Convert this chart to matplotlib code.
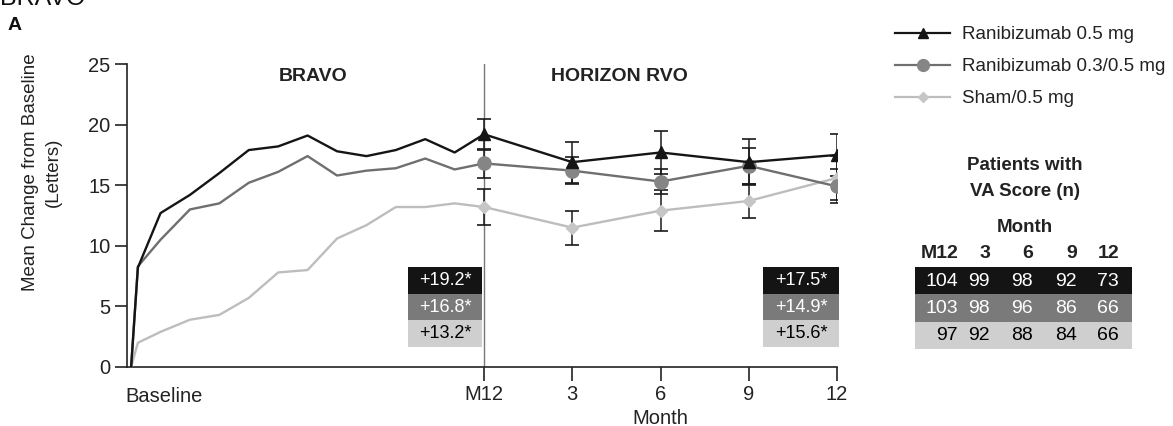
import matplotlib
matplotlib.use('Agg')
import matplotlib.pyplot as plt
from matplotlib.patches import Rectangle
from matplotlib.lines import Line2D

plt.rcParams['font.family'] = ['Liberation Sans', 'DejaVu Sans']

## BRAVO monthly data (x in months, day 7 = 0.23)
bravo_x = [0, 0.23, 1, 2, 3, 4, 5, 6, 7, 8, 9, 10, 11, 12]
bravo_05 = [0, 8.2, 12.7, 14.2, 16.0, 17.9, 18.2, 19.1, 17.8, 17.4, 17.9, 18.8, 17.7, 19.2]
bravo_03 = [0, 8.3, 10.5, 13.0, 13.5, 15.2, 16.1, 17.4, 15.8, 16.2, 16.4, 17.2, 16.3, 16.8]
bravo_sham = [0, 2.0, 2.9, 3.9, 4.3, 5.7, 7.8, 8.0, 10.6, 11.7, 13.2, 13.2, 13.5, 13.2]

## HORIZON RVO data
hz_x = [12, 15, 18, 21, 24]
hz_labels = ['M12', '3', '6', '9', '12']
hz_05 = [19.2, 16.9, 17.7, 16.9, 17.5]
hz_03 = [16.8, 16.2, 15.3, 16.6, 14.9]
hz_sham = [13.2, 11.5, 12.9, 13.7, 15.6]
err_05 = [1.3, 1.7, 1.8, 1.9, 1.7]
err_03 = [1.2, 1.1, 1.0, 1.5, 1.4]
err_sham = [1.5, 1.4, 1.7, 1.4, 1.8]

series_names = ['Ranibizumab 0.5 mg', 'Ranibizumab 0.3/0.5 mg', 'Sham/0.5 mg']
bravo_change = ['+19.2*', '+16.8*', '+13.2*']
horizon_change = ['+17.5*', '+14.9*', '+15.6*']

## patients with VA score
table_cols = ['M12', '3', '6', '9', '12']
n_05 = [104, 99, 98, 92, 73]
n_03 = [103, 98, 96, 86, 66]
n_sham = [97, 92, 88, 84, 66]

line_cols = ['#151515', '#6f6f6f', '#bdbdbd']
mark_cols = ['#151515', '#858585', '#c6c6c6']
box_cols = ['#141414', '#7a7a7a', '#cfcfcf']
box_text = ['white', 'white', 'black']
markers = ['^', 'o', 'D']
msizes = [8.5, 9.5, 6.5]

W, H = 1173, 426
fig = plt.figure(figsize=(W / 100, H / 100), dpi=100)
ax = fig.add_axes([127 / W, 1 - 367 / H, (837 - 127) / W, (367 - 64) / H])

bravo = [bravo_05, bravo_03, bravo_sham]
horizon = [hz_05, hz_03, hz_sham]
errs = [err_05, err_03, err_sham]

for i in [2, 1, 0]:
    ax.plot(bravo_x, bravo[i], color=line_cols[i], lw=1.7, zorder=3)
    ax.errorbar(hz_x, horizon[i], yerr=errs[i], fmt='none', ecolor='#1a1a1a',
                elinewidth=1.1, capsize=5, capthick=1.2, zorder=2)
    ax.plot(hz_x, horizon[i], color=line_cols[i], lw=1.7, marker=markers[i],
            markersize=msizes[i], markerfacecolor=mark_cols[i],
            markeredgecolor=mark_cols[i], zorder=4)

ax.axvline(12, color='#777777', lw=1.0, zorder=1)

ax.set_xlim(-0.14, 24)
ax.set_ylim(0, 25)
ax.set_yticks([0, 5, 10, 15, 20, 25])
ax.set_xticks(hz_x)
ax.set_xticklabels(hz_labels)
ax.spines['top'].set_visible(False)
ax.spines['right'].set_visible(False)
for s in ['left', 'bottom']:
    ax.spines[s].set_linewidth(1.2)
    ax.spines[s].set_color('#222222')
ax.tick_params(axis='both', labelsize=14.5, width=1.2, color='#222222', labelcolor='#222222')
ax.tick_params(axis='x', length=10, pad=3)
ax.tick_params(axis='y', length=9, pad=3)

ax.annotate('Baseline', xy=(0, 0), xycoords=('data', 'axes fraction'),
            xytext=(-4, -14.5), textcoords='offset points', ha='left', va='top',
            fontsize=14.5, color='#222222')
ax.annotate('Month', xy=(18, 0), xycoords=('data', 'axes fraction'),
            xytext=(0, -37), textcoords='offset points', ha='center', va='center',
            fontsize=14.5, color='#222222')

ax.text(6.2, 24.0, 'BRAVO', ha='center', va='center', fontsize=14, fontweight='bold', color='#222222')
ax.text(16.6, 24.0, 'HORIZON RVO', ha='center', va='center', fontsize=14, fontweight='bold', color='#222222')

## change boxes
row_top = 8.25
row_h = 2.2
for x0, x1, labels in [(9.42, 11.93, bravo_change), (21.5, 24.08, horizon_change)]:
    for j, lab in enumerate(labels):
        y0 = row_top - (j + 1) * row_h
        ax.add_patch(Rectangle((x0, y0), x1 - x0, row_h, facecolor=box_cols[j],
                               edgecolor='none', zorder=5, clip_on=False))
        ax.text((x0 + x1) / 2, y0 + row_h / 2, lab, ha='center', va='center',
                fontsize=13, color=box_text[j], zorder=6)

fig.text(42 / W, 1 - 172 / H, 'Mean Change from Baseline\n(Letters)', rotation=90,
         ha='center', va='center', fontsize=13.5, linespacing=1.4, color='#222222')
fig.text(8 / W, 1 - 25 / H, 'A', fontsize=14, fontweight='bold', va='center', color='#111111')
fig.text(0, 1 - 5 / H, 'BRAVO', fontsize=18, va='baseline', color='#111111')

## legend
handles = [Line2D([], [], color=line_cols[i], lw=1.6, marker=markers[i],
                  markersize=msizes[i] - 1, markerfacecolor=mark_cols[i],
                  markeredgecolor=mark_cols[i]) for i in range(3)]
fig.legend(handles, series_names, loc='upper left', bbox_to_anchor=(895 / W, 1 - 26 / H),
           frameon=False, fontsize=13.5, handlelength=2.95, handletextpad=0.65,
           labelspacing=0.8, borderpad=0, borderaxespad=0, labelcolor='#222222')

## patients table in pixel coordinates
tab = fig.add_axes([0, 0, 1, 1])
tab.set_xlim(0, W)
tab.set_ylim(H, 0)
tab.axis('off')
tab.text(1025, 165, 'Patients with', ha='center', va='center', fontsize=13.5, fontweight='bold', color='#222222')
tab.text(1025, 192, 'VA Score (n)', ha='center', va='center', fontsize=13.5, fontweight='bold', color='#222222')
tab.text(1025, 227, 'Month', ha='center', va='center', fontsize=13.5, fontweight='bold', color='#222222')
col_right = [958, 990, 1033, 1077, 1119]
for c, lab in enumerate(table_cols):
    tab.text(col_right[c], 253, lab, ha='right', va='center', fontsize=14, fontweight='bold', color='#222222')
rows = [n_05, n_03, n_sham]
for r, vals in enumerate(rows):
    top = 267 + r * 27.3
    tab.add_patch(Rectangle((915, top), 217, 27.3, facecolor=box_cols[r], edgecolor='none'))
    for c, v in enumerate(vals):
        tab.text(col_right[c], top + 14, str(v), ha='right', va='center', fontsize=14,
                 color=box_text[r])

fig.savefig('out.png', dpi=100)
